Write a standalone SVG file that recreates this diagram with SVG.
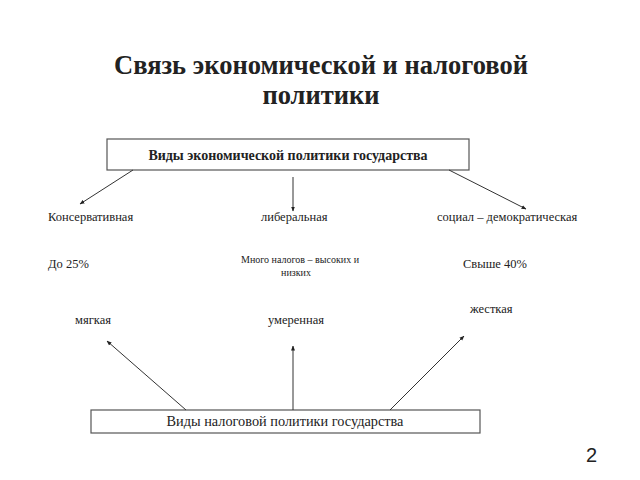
<svg xmlns="http://www.w3.org/2000/svg" width="640" height="480" viewBox="0 0 640 480">
<style>
text{font-family:"Liberation Serif","Times New Roman",serif;fill:#222;}
.t{font-size:12.5px;}
.box{fill:#fff;stroke:#555;stroke-width:1.2;}
.c line{stroke:#333;stroke-width:1;marker-end:url(#ah);}
</style>
<defs>
<marker id="ah" viewBox="0 0 10 10" refX="9" refY="5" markerWidth="5" markerHeight="5" orient="auto" markerUnits="userSpaceOnUse"><path d="M0,1 L10,5 L0,9 z" fill="#222"/></marker>
</defs>
<rect width="640" height="480" fill="#fff"/>
<g id="title"><text x="321" y="74" text-anchor="middle" font-size="26.5" font-weight="bold">Связь экономической и налоговой</text><text x="321" y="104" text-anchor="middle" font-size="26.5" font-weight="bold">политики</text></g>
<g id="econ"><rect class="box" x="107" y="139" width="362" height="31"/><text x="288" y="160" text-anchor="middle" font-size="14" font-weight="bold">Виды экономической политики государства</text></g>
<g id="tax"><rect class="box" x="91" y="410" width="389" height="23"/><text x="285" y="426" text-anchor="middle" font-size="14.3">Виды налоговой политики государства</text></g>
<g id="cons"><text class="t" x="48" y="221">Консервативная</text></g>
<g id="lib"><text class="t" x="261" y="221">либеральная</text></g>
<g id="soc"><text class="t" x="437" y="221">социал – демократическая</text></g>
<g id="p25"><text class="t" x="48" y="268">До 25%</text></g>
<g id="many"><text x="300" y="263" text-anchor="middle" font-size="10">Много налогов – высоких и</text><text x="296" y="276" text-anchor="middle" font-size="10">низких</text></g>
<g id="p40"><text class="t" x="463" y="268">Свыше 40%</text></g>
<g id="soft"><text class="t" x="75" y="324">мягкая</text></g>
<g id="mod"><text class="t" x="268" y="324">умеренная</text></g>
<g id="hard"><text class="t" x="470" y="313">жесткая</text></g>
<g class="c" id="connectors">
<line x1="133" y1="170" x2="80" y2="204"/>
<line x1="293" y1="177" x2="293" y2="211"/>
<line x1="449" y1="170" x2="526" y2="209"/>
<line x1="186" y1="410" x2="107" y2="341"/>
<line x1="293" y1="410" x2="293" y2="346"/>
<line x1="390" y1="410" x2="464" y2="336"/>
</g>
<text x="586" y="462" font-size="20" style="font-family:'Liberation Sans',Arial,sans-serif">2</text>
</svg>
